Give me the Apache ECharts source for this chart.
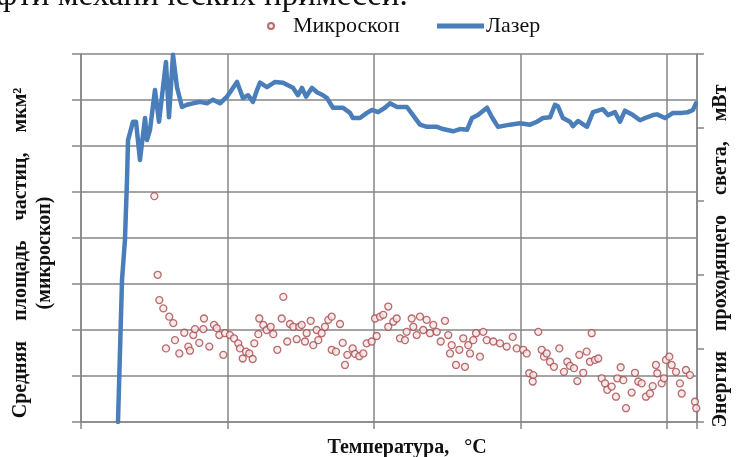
<!DOCTYPE html>
<html>
<head>
<meta charset="utf-8">
<script src="https://cdn.jsdelivr.net/npm/echarts@6/dist/echarts.min.js"></script>
<style>
html,body{margin:0;padding:0;background:#fff;}
#chart{width:736px;height:457px;}
</style>
</head>
<body>
<div id="chart"></div>
<script>
// Laser (right axis): temperature / transmitted light energy
const laserT = [5.05,5.6,6.0,6.28,6.42,6.69,7.1,7.51,8.05,8.74,9.01,9.42,10.1,10.65,11.6,12.01,12.56,13.1,13.79,14.47,15.29,16.25,17.2,18.02,18.98,19.93,21.3,22.12,22.8,23.48,24.03,24.44,25.39,26.49,27.58,28.94,29.62,30.17,30.72,31.54,32.22,33.04,33.58,34.4,35.77,36.72,37.13,38.09,39.04,39.73,40.55,41.5,42.18,43.14,44.5,45.32,46.28,47.24,48.6,49.42,50.79,51.74,52.7,53.38,54.2,55.43,56.11,56.93,58.57,59.93,61.3,62.25,63.07,64.03,64.71,65.12,65.8,66.76,67.17,67.85,69.08,69.9,71.26,71.95,72.9,73.58,74.27,75.36,76.32,77.27,78.09,78.64,79.73,80.82,82.05,82.87,83.55,83.96];
const laserE = [0,1.93,2.47,3.29,3.83,3.93,4.08,4.08,3.56,4.13,3.83,3.97,4.51,4.08,4.89,4.14,4.99,4.55,4.28,4.31,4.33,4.35,4.33,4.38,4.33,4.42,4.62,4.40,4.44,4.35,4.51,4.61,4.55,4.62,4.61,4.54,4.44,4.54,4.42,4.54,4.48,4.44,4.40,4.27,4.27,4.20,4.13,4.13,4.20,4.24,4.21,4.27,4.33,4.28,4.28,4.17,4.04,4.01,4.01,3.98,3.95,3.98,3.97,4.13,4.17,4.27,4.14,4.01,4.04,4.06,4.04,4.08,4.13,4.14,4.31,4.29,4.13,4.08,4.02,4.09,4.01,4.21,4.25,4.17,4.21,4.08,4.23,4.17,4.10,4.14,4.17,4.18,4.13,4.20,4.20,4.21,4.24,4.33];

// Microscope (left axis): temperature / mean particle area
const micT = [10.01,10.47,10.69,11.24,12.05,12.60,11.60,12.83,13.42,14.10,14.65,14.88,15.33,15.56,16.15,16.79,16.70,17.52,18.16,18.53,18.88,19.43,19.66,20.34,20.89,21.47,21.71,22.08,22.53,22.98,23.44,23.66,24.21,24.34,24.89,25.35,25.90,26.25,26.80,27.40,27.62,28.16,28.53,28.98,29.45,29.80,30.13,30.58,30.81,31.36,31.71,32.18,32.40,32.86,33.31,33.76,34.23,34.23,34.81,35.36,35.73,36.04,36.36,37.09,37.41,37.99,38.54,39.00,39.69,40.14,40.37,40.82,41.27,41.95,41.95,
  42.64,43.10,43.55,44.23,44.46,45.15,45.37,45.83,46.28,46.73,47.19,47.65,48.10,48.56,49.11,49.69,50.14,50.61,50.38,51.20,51.65,52.19,52.42,52.87,53.11,53.56,53.93,54.47,54.92,55.39,56.29,57.20,58.12,58.94,59.48,60.38,60.85,61.20,61.75,61.67,62.43,62.89,63.21,63.58,64.03,64.57,65.30,65.94,66.39,66.76,67.30,67.76,68.03,68.57,69.04,69.49,69.72,70.17,70.62,71.09,71.54,71.85,72.45,73.04,73.22,73.68,74.04,74.40,75.18,75.63,76.08,76.55,77.13,77.68,78.05,78.50,78.68,79.28,79.59,79.86,80.32,80.64,81.23,81.77,82.01,82.59,83.14,83.82,84.0];
const micM = [4.91,3.20,2.65,2.47,2.29,2.15,1.60,1.78,1.49,1.94,1.64,1.55,1.89,2.02,1.72,2.25,2.02,1.64,2.11,2.04,1.89,1.46,1.93,1.89,1.82,1.71,1.60,1.38,1.53,1.49,1.37,1.71,1.91,2.25,2.11,2.00,2.07,1.91,1.57,2.25,2.72,1.75,2.13,2.07,1.80,2.07,2.11,1.75,1.93,2.20,1.67,2.00,1.78,1.93,2.07,2.22,2.29,1.57,1.53,2.13,1.72,1.24,1.46,1.60,1.48,1.43,1.49,1.71,1.75,2.25,1.87,2.29,2.33,2.51,2.07,
  2.18,2.25,1.82,1.78,1.96,2.25,2.07,1.89,2.29,2.00,2.22,1.93,2.11,1.96,1.75,2.20,1.89,1.67,1.49,1.24,1.57,1.82,1.20,1.67,1.49,1.78,1.93,1.42,1.96,1.78,1.75,1.71,1.64,1.85,1.60,1.57,1.49,1.06,1.02,0.88,1.96,1.57,1.42,1.49,1.31,1.20,1.60,1.09,1.31,1.22,1.17,0.89,1.46,1.07,1.53,1.31,1.93,1.35,1.38,0.95,0.84,0.70,0.77,0.55,0.95,1.19,0.91,0.30,0.64,1.07,0.88,0.84,0.55,0.62,0.78,1.24,1.06,0.84,0.95,1.35,1.42,1.24,1.09,0.84,0.62,1.13,1.02,0.44,0.30];

const seriesNames = ['Микроскоп', 'Лазер'];
const xTitle = 'Температура,   °C';
const yLeftTitle = 'Средняя    площадь    частиц,    мкм²\n(микроскоп)';
const yRightTitle = 'Энергия    проходящего    света,    мВт';
const captionText = 'фти механических примесей.';

const gridColor = '#868686';
const lineColor = '#4a7ebb';
const serif = '"Liberation Serif", "Times New Roman", serif';
const legendText = {fontFamily: serif, fontSize: 22, color: '#111'};

const chart = echarts.init(document.getElementById('chart'), null, {renderer: 'canvas'});
chart.setOption({
  animation: false,
  backgroundColor: '#ffffff',
  graphic: [{
    type: 'text', left: -4, top: -20,
    style: {text: captionText, font: '33px ' + serif, fill: '#111'}
  }],
  legend: [{
    data: [{name: seriesNames[0], icon: 'circle'}],
    left: 262, top: 10, padding: 5,
    itemWidth: 6, itemHeight: 6,
    textStyle: Object.assign({padding: [0, 0, 0, 14]}, legendText)
  }, {
    data: [{name: seriesNames[1], icon: 'rect', itemStyle: {color: lineColor}}],
    left: 432, top: 10, padding: 5,
    itemWidth: 47, itemHeight: 5,
    textStyle: Object.assign({padding: [0, 0, 0, -3]}, legendText)
  }],
  grid: {left: 81, right: 39, top: 54, bottom: 35, containLabel: false, outerBoundsMode: 'none'},
  xAxis: {
    type: 'value', min: 0, max: 84.1, interval: 20,
    name: xTitle, nameLocation: 'middle', nameGap: 16,
    nameTextStyle: {fontFamily: serif, fontWeight: 'bold', fontSize: 20, color: '#111', padding: [0, 0, 0, 36]},
    axisLine: {show: true, lineStyle: {color: gridColor, width: 1.5}},
    axisTick: {show: true, inside: false, length: 7, lineStyle: {color: gridColor, width: 1.5}},
    axisLabel: {show: false},
    splitLine: {show: true, lineStyle: {color: gridColor, width: 1.5}}
  },
  yAxis: [{
    type: 'value', min: 0, max: 8, interval: 1, position: 'left',
    name: yLeftTitle, nameLocation: 'middle', nameRotate: 90, nameGap: 24,
    nameTextStyle: {fontFamily: serif, fontWeight: 'bold', fontSize: 20, lineHeight: 24, color: '#111', padding: [0, 30, 0, 0]},
    axisLine: {show: true, lineStyle: {color: gridColor, width: 1.5}},
    axisTick: {show: true, inside: false, length: 9, lineStyle: {color: gridColor, width: 1.5}},
    axisLabel: {show: false},
    splitLine: {show: true, lineStyle: {color: gridColor, width: 1.5}}
  }, {
    type: 'value', min: 0, max: 5, interval: 1, position: 'right',
    name: yRightTitle, nameLocation: 'middle', nameRotate: 90, nameGap: 14,
    nameTextStyle: {fontFamily: serif, fontWeight: 'bold', fontSize: 20, color: '#111', padding: [0, 36, 0, 0]},
    axisLine: {show: true, lineStyle: {color: gridColor, width: 1.5}},
    axisTick: {show: true, inside: false, length: 7, lineStyle: {color: gridColor, width: 1.5}},
    axisLabel: {show: false},
    splitLine: {show: false}
  }],
  series: [{
    name: seriesNames[0], type: 'scatter', yAxisIndex: 0,
    symbol: 'circle', symbolSize: 7,
    itemStyle: {color: '#f6e6e6', borderColor: '#a9484c', borderWidth: 1.3},
    data: micT.map((t, i) => [t, micM[i]])
  }, {
    name: seriesNames[1], type: 'line', yAxisIndex: 1,
    showSymbol: false, symbol: 'none',
    lineStyle: {color: lineColor, width: 4.5, join: 'round', cap: 'round'},
    itemStyle: {color: lineColor},
    data: laserT.map((t, i) => [t, laserE[i]])
  }]
});
</script>
</body>
</html>
